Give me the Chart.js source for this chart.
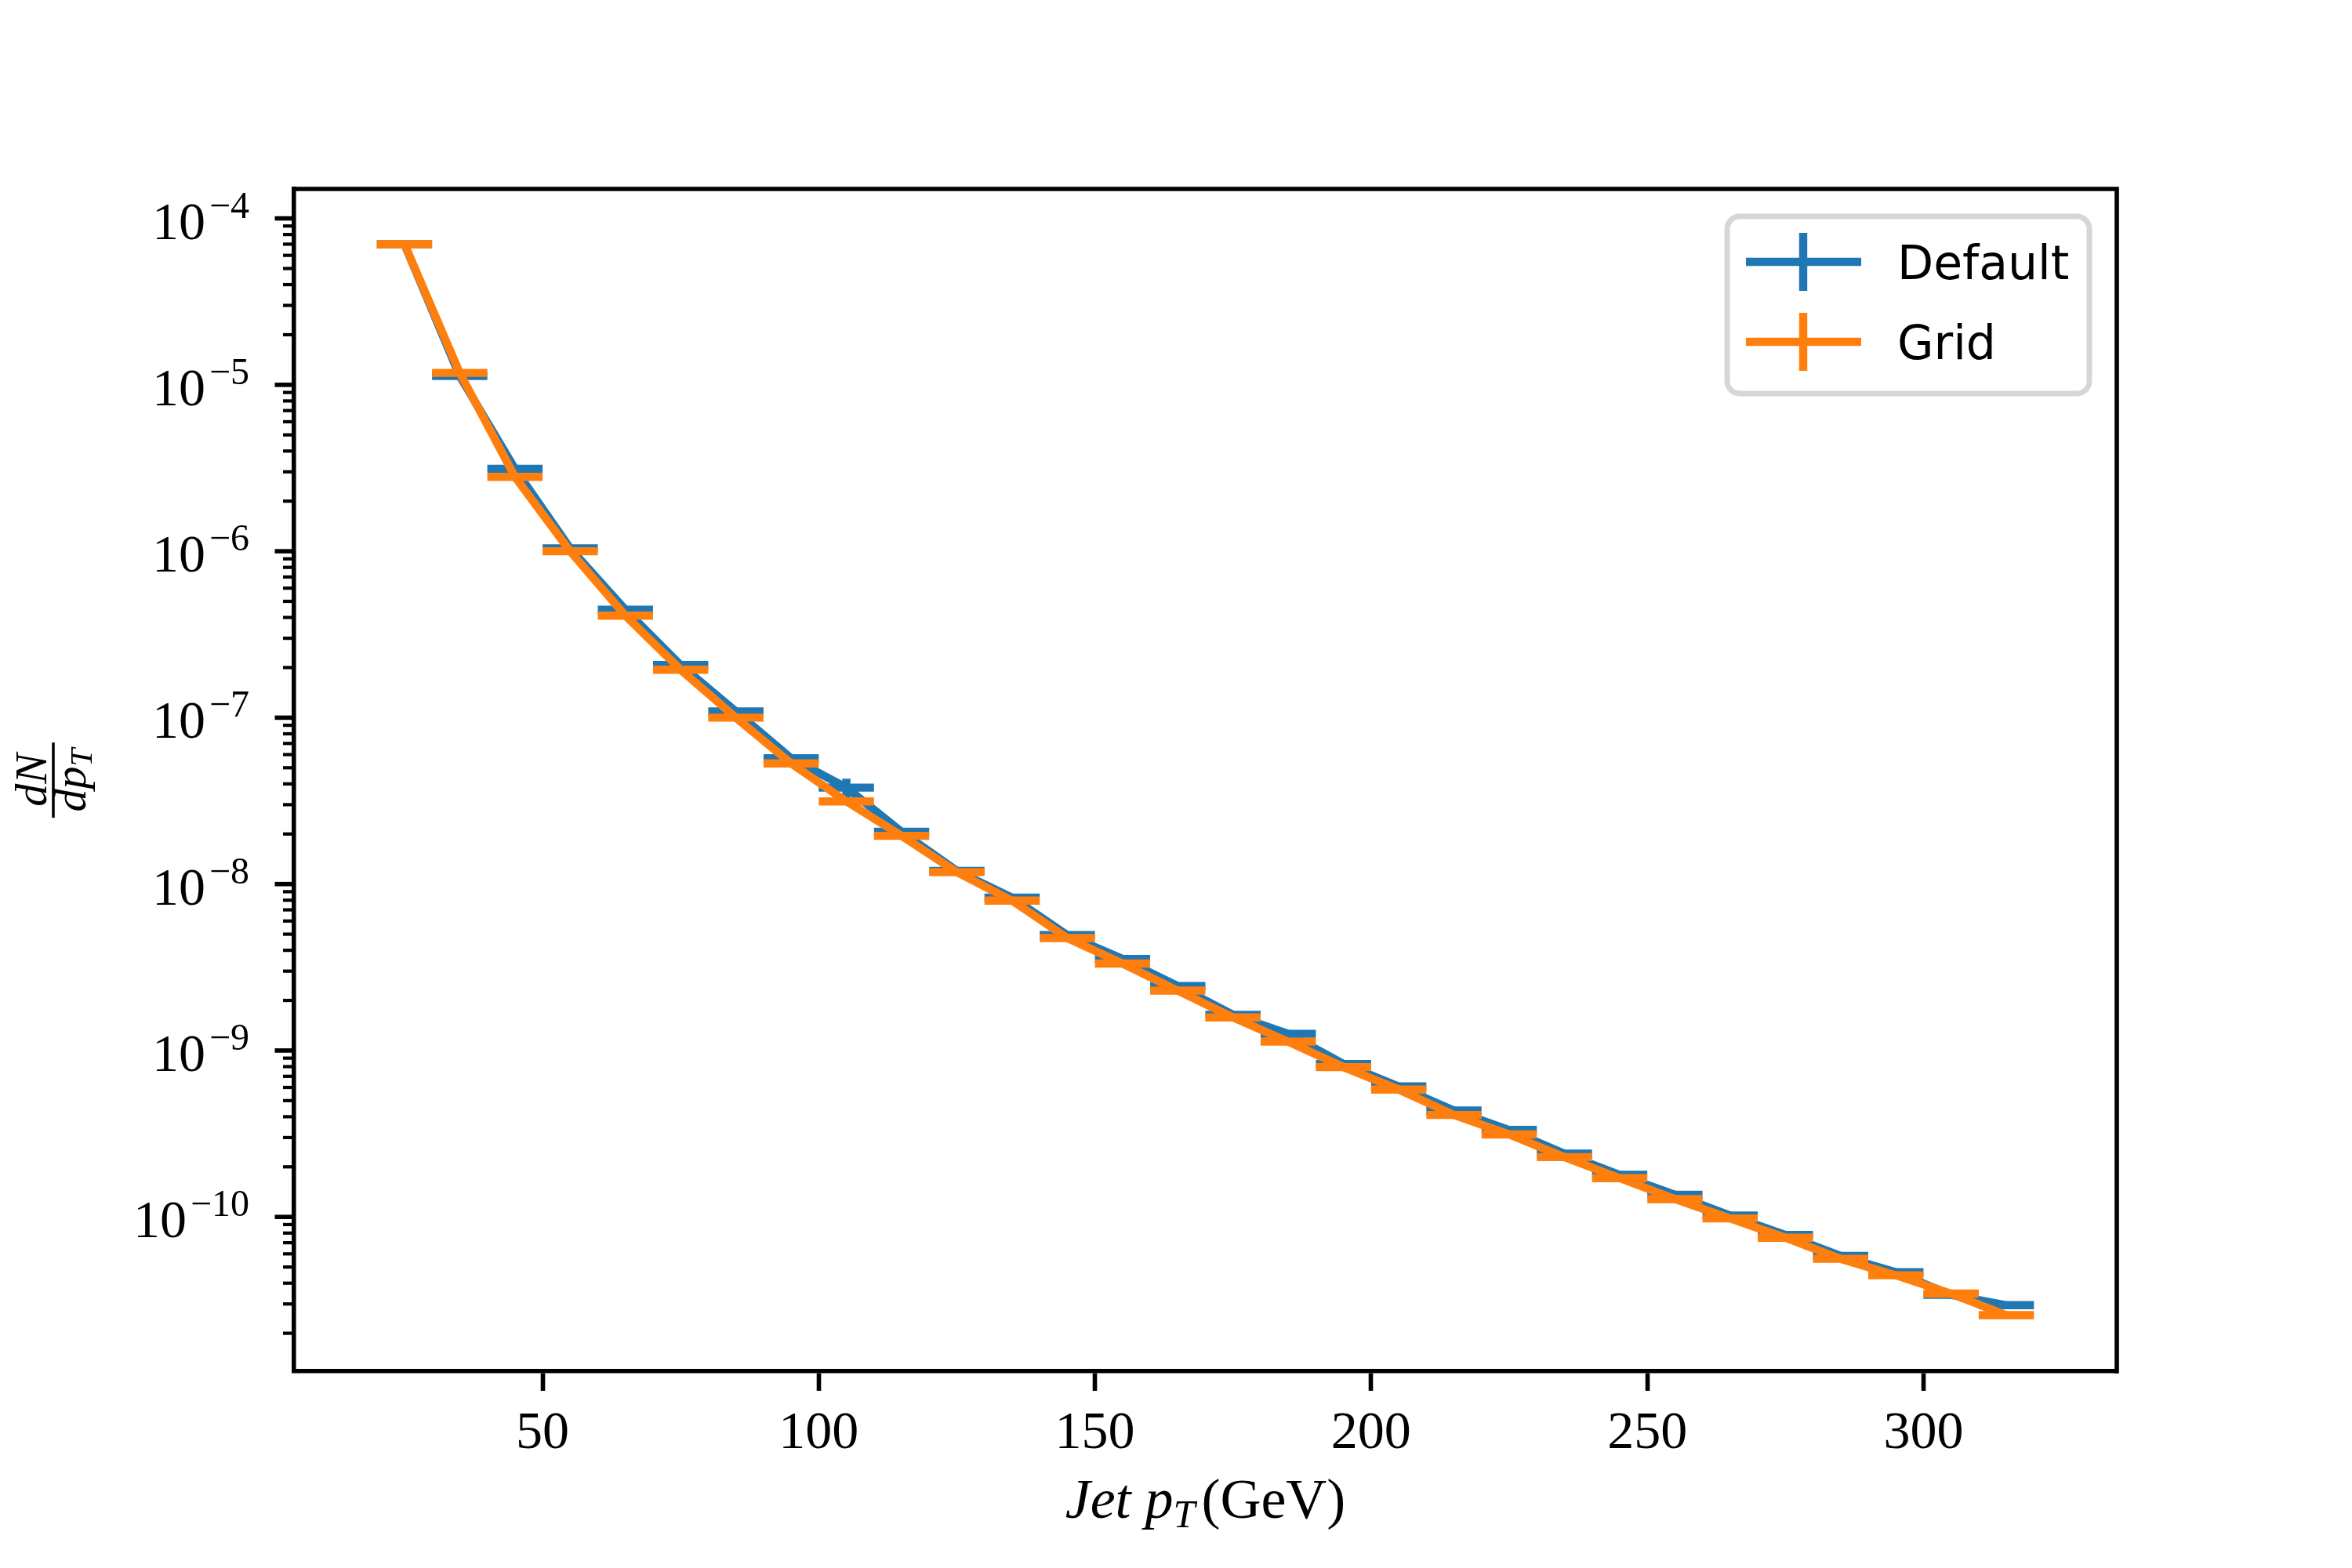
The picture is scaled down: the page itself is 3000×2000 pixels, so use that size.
<!DOCTYPE html>
<html><head><meta charset="utf-8">
<script src="https://cdn.jsdelivr.net/npm/chart.js@4.4.1/dist/chart.umd.min.js"></script>
<style>html,body{margin:0;padding:0;background:#fff;}canvas{display:block;}</style>
</head><body>
<canvas id="c" width="3000" height="2000" style="width:3000px;height:2000px"></canvas>
<script>
// ---- data ----
const ptBinCenters = [25,35,45,55,65,75,85,95,105,115,125,135,145,155,165,175,185,195,205,215,225,235,245,255,265,275,285,295,305,315];
const binHalfWidth = 5;
const defaultVals = [7.0e-5,1.13e-5,3.13e-6,1.04e-6,4.45e-7,2.07e-7,1.09e-7,5.7e-8,3.8e-8,2.06e-8,1.2e-8,8.3e-9,4.94e-9,3.55e-9,2.44e-9,1.64e-9,1.26e-9,8.3e-10,6.08e-10,4.36e-10,3.33e-10,2.4e-10,1.79e-10,1.36e-10,1.02e-10,7.8e-11,5.83e-11,4.65e-11,3.4e-11,2.95e-11];
const gridVals = [7.0e-5,1.18e-5,2.8e-6,1.0e-6,4.1e-7,1.94e-7,1.0e-7,5.31e-8,3.14e-8,1.95e-8,1.18e-8,7.95e-9,4.74e-9,3.33e-9,2.29e-9,1.58e-9,1.13e-9,7.95e-10,5.83e-10,4.1e-10,3.13e-10,2.29e-10,1.71e-10,1.28e-10,9.8e-11,7.5e-11,5.6e-11,4.46e-11,3.46e-11,2.57e-11];
const defaultYErr = [0,0,0,0,0,0,0,0,5e-9,0,0,0,0,0,0,0,0,0,0,0,0,0,0,0,0,0,0,0,0,0];
const gridYErr = [0,0,0,0,0,0,0,0,0,0,0,0,0,0,0,0,0,0,0,0,0,0,0,0,0,0,0,0,0,0];
const seriesNames = ['Default','Grid'];
const seriesColors = ['#1f77b4','#ff7f0e'];
const xTicks = [50,100,150,200,250,300];
const yTickExponents = [-10,-9,-8,-7,-6,-5,-4];
const xLimits = [5,335];
const yLimits = [1.183e-11,1.503e-4];

const SERIF = '"Liberation Serif", "DejaVu Serif", serif';
const LW = 10.4;

function toPoints(vals){ return ptBinCenters.map((x,i)=>({x:x,y:vals[i]})); }

const errorBarPlugin = {
  id:'errbars',
  afterDatasetDraw(chart, args){
    const ds = chart.data.datasets[args.index];
    const xs = chart.scales.x, ys = chart.scales.y, ctx = chart.ctx, a = chart.chartArea;
    ctx.save();
    ctx.beginPath(); ctx.rect(a.left,a.top,a.right-a.left,a.bottom-a.top); ctx.clip();
    ctx.strokeStyle = ds.borderColor; ctx.lineWidth = ds.borderWidth; ctx.lineCap='butt';
    ds.data.forEach((p,i)=>{
      const y = ys.getPixelForValue(p.y);
      ctx.beginPath();
      ctx.moveTo(xs.getPixelForValue(p.x-binHalfWidth), y);
      ctx.lineTo(xs.getPixelForValue(p.x+binHalfWidth), y);
      ctx.stroke();
      const e = ds.yErr[i];
      if (e>0){
        const x = xs.getPixelForValue(p.x);
        ctx.beginPath();
        ctx.moveTo(x, ys.getPixelForValue(p.y-e));
        ctx.lineTo(x, ys.getPixelForValue(p.y+e));
        ctx.stroke();
      }
    });
    ctx.restore();
  }
};

const decorPlugin = {
  id:'decor',
  afterDraw(chart){
    const ctx = chart.ctx, a = chart.chartArea, ys = chart.scales.y;
    ctx.save();
    // top & right spines
    ctx.strokeStyle='#000'; ctx.lineWidth=5.6; ctx.lineCap='square';
    ctx.beginPath(); ctx.moveTo(a.left,a.top); ctx.lineTo(a.right,a.top); ctx.lineTo(a.right,a.bottom); ctx.stroke();
    ctx.lineCap='butt';
    // y ticks (major + minor)
    const eMin = Math.floor(Math.log10(yLimits[0])), eMax = Math.ceil(Math.log10(yLimits[1]));
    for (let e=eMin; e<=eMax; e++){
      for (let m=1; m<=9; m++){
        const v = m*Math.pow(10,e);
        if (v<yLimits[0] || v>yLimits[1]) continue;
        const y = ys.getPixelForValue(v);
        const major = (m===1);
        ctx.lineWidth = major?5.6:4.2;
        ctx.beginPath(); ctx.moveTo(a.left, y); ctx.lineTo(a.left-(major?24.5:14), y); ctx.stroke();
      }
    }
    // y tick labels 10^e
    ctx.fillStyle='#000';
    ctx.textAlign='right'; ctx.textBaseline='alphabetic';
    yTickExponents.forEach(e=>{
      const y = ys.getPixelForValue(Math.pow(10,e));
      const right = a.left-57;
      const sup = '\u2212'+Math.abs(e);
      ctx.font = '48px '+SERIF;
      const w = ctx.measureText(sup).width;
      ctx.fillText(sup, right, y-1);
      ctx.font = '68px '+SERIF;
      ctx.fillText('10', right-w-5, y+26);
    });
    // x axis title: Jet p_T (GeV)
    const parts = [
      {t:'Jet', f:'italic 72px '+SERIF, dy:0, gap:0},
      {t:'p', f:'italic 72px '+SERIF, dy:0, gap:18},
      {t:'T', f:'italic 50px '+SERIF, dy:12, gap:0},
      {t:'(GeV)', f:'72px '+SERIF, dy:0, gap:8}
    ];
    let total=0;
    parts.forEach(p=>{ctx.font=p.f; p.w=ctx.measureText(p.t).width; total+=p.w+p.gap;});
    let x = (a.left+a.right)/2 - total/2;
    ctx.textAlign='left';
    parts.forEach(p=>{ x+=p.gap; ctx.font=p.f; ctx.fillText(p.t, x, 1936+p.dy); x+=p.w; });
    // y axis label: dN / dp_T (rotated)
    ctx.save();
    ctx.translate(68,(a.top+a.bottom)/2);
    ctx.rotate(-Math.PI/2);
    ctx.textAlign='center';
    ctx.font='italic 58px '+SERIF;
    ctx.fillText('dN', 0, -9);
    ctx.lineWidth=3.5;
    ctx.beginPath(); ctx.moveTo(-48,0); ctx.lineTo(48,0); ctx.stroke();
    ctx.font='italic 58px '+SERIF;
    const wd = ctx.measureText('dp').width;
    ctx.font='italic 41px '+SERIF;
    const wt = ctx.measureText('T').width;
    const startX = -(wd+wt)/2;
    ctx.textAlign='left';
    ctx.font='italic 58px '+SERIF;
    ctx.fillText('dp', startX, 41);
    ctx.font='italic 41px '+SERIF;
    ctx.fillText('T', startX+wd, 49);
    ctx.restore();
    // legend
    const L={left:2203,top:276,right:2665,bottom:502};
    ctx.beginPath();
    ctx.roundRect(L.left,L.top,L.right-L.left,L.bottom-L.top,16);
    ctx.fillStyle='rgba(255,255,255,0.8)'; ctx.fill();
    ctx.strokeStyle='#d6d6d6'; ctx.lineWidth=7; ctx.stroke();
    const rows=[334,436];
    chart.data.datasets.slice().sort((p,q)=>p.legendIndex-q.legendIndex).forEach((ds,i)=>{
      const cy = rows[i];
      ctx.strokeStyle=ds.borderColor; ctx.lineWidth=LW; ctx.lineCap='butt';
      ctx.beginPath(); ctx.moveTo(2227,cy); ctx.lineTo(2374,cy); ctx.stroke();
      ctx.beginPath(); ctx.moveTo(2300,cy-37); ctx.lineTo(2300,cy+37); ctx.stroke();
      ctx.fillStyle='#000'; ctx.font='60px "DejaVu Sans", sans-serif'; ctx.textAlign='left';
      ctx.fillText(ds.label, 2420, cy+22);
    });
    ctx.restore();
  }
};

new Chart(document.getElementById('c'), {
  type:'line',
  data:{ datasets:[
    {label:seriesNames[0], data:toPoints(defaultVals), yErr:defaultYErr, legendIndex:0, order:1,
     borderColor:seriesColors[0], backgroundColor:seriesColors[0], borderWidth:LW, pointRadius:0, tension:0, borderJoinStyle:'round', fill:false},
    {label:seriesNames[1], data:toPoints(gridVals), yErr:gridYErr, legendIndex:1, order:0,
     borderColor:seriesColors[1], backgroundColor:seriesColors[1], borderWidth:LW, pointRadius:0, tension:0, borderJoinStyle:'round', fill:false}
  ]},
  options:{
    responsive:false, animation:false, devicePixelRatio:1,
    layout:{padding:{top:241,right:300,left:0,bottom:0}},
    plugins:{legend:{display:false}, tooltip:{enabled:false}},
    scales:{
      x:{type:'linear', min:xLimits[0], max:xLimits[1],
         afterBuildTicks:(s)=>{ s.ticks = xTicks.map(v=>({value:v})); },
         afterFit:(s)=>{ s.height = 2000-1749; },
         grid:{drawOnChartArea:false, tickLength:25, tickWidth:5.6, tickColor:'#000', color:'#000'},
         border:{display:true, color:'#000', width:5.6},
         ticks:{font:{family:SERIF, size:68}, color:'#000', padding:14, maxRotation:0, autoSkip:false,
                callback:(v)=>String(v)}},
      y:{type:'logarithmic', min:yLimits[0], max:yLimits[1],
         afterFit:(s)=>{ s.width = 375; },
         grid:{display:false},
         border:{display:true, color:'#000', width:5.6},
         ticks:{display:false}}
    }
  },
  plugins:[errorBarPlugin, decorPlugin]
});
</script>
</body></html>
